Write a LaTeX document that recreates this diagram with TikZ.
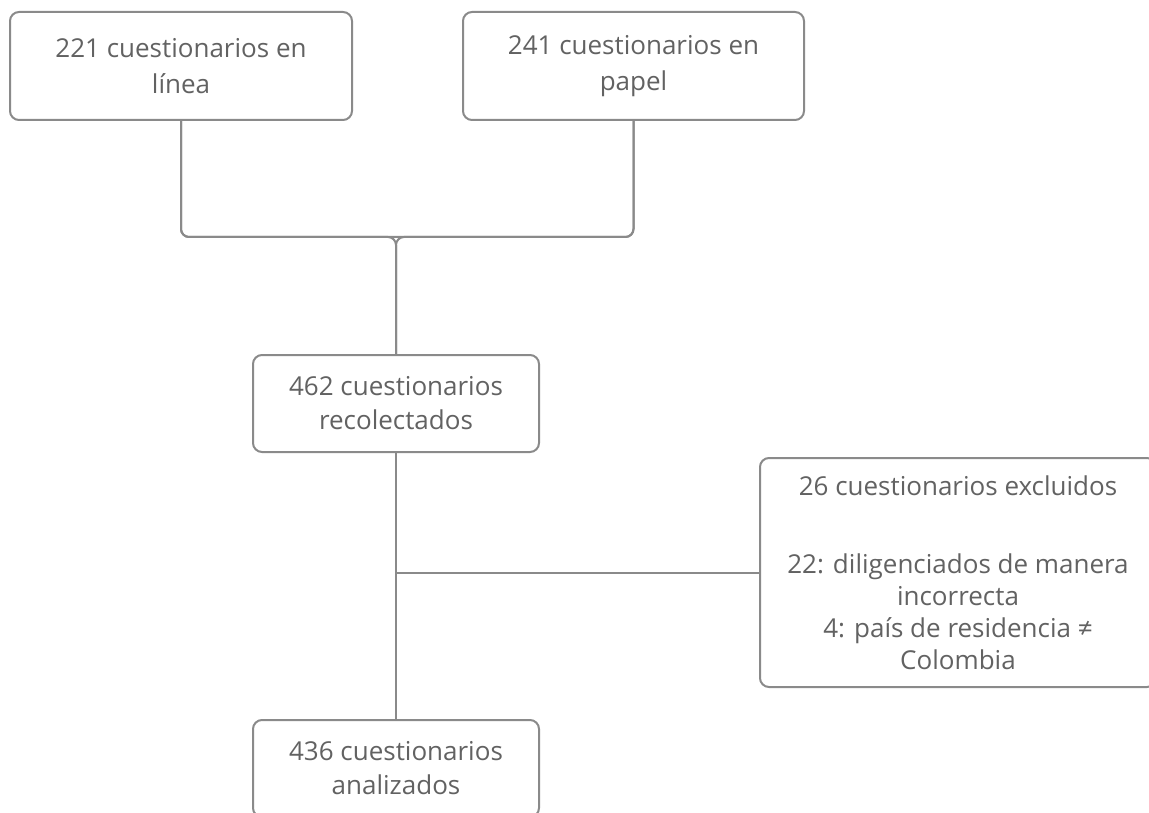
\documentclass[tikz,border=0pt]{standalone}
\usepackage{fontspec}
\setmainfont{Open Sans}
\definecolor{boxline}{HTML}{8A8A8A}
\definecolor{txt}{HTML}{626262}
\tikzset{
  box/.style={draw=boxline, line width=2pt, rounded corners=9pt, align=center,
    text=txt, font=\fontsize{26}{34}\selectfont, inner sep=0pt},
  conn/.style={draw=boxline, line width=2pt, rounded corners=8pt}
}
\begin{document}
\begin{tikzpicture}[x=1pt,y=-1pt]
\useasboundingbox (0,0) rectangle (1149,813);
\clip (0,0) rectangle (1149,813);
\fill[white] (0,0) rectangle (1149,813);
\node[box, minimum width=342pt, minimum height=108pt, font=\fontsize{26}{36}\selectfont] (b1) at (181,66) {221 cuestionarios en\\línea};
\node[box, minimum width=341pt, minimum height=108pt, font=\fontsize{26}{36}\selectfont] (b2) at (633.5,66) {241 cuestionarios en\\papel};
\node[box, minimum width=286pt, minimum height=97pt] (b3) at (396,403.5) {462 cuestionarios\\recolectados};
\node[box, minimum width=286pt, minimum height=97pt] (b4) at (396,768.5) {436 cuestionarios\\analizados};
\node[box, minimum width=396pt, minimum height=229pt, font=\fontsize{26}{32}\selectfont] (b5) at (958,572.5)
  {26 cuestionarios excluidos\\[46pt]22: diligenciados de manera\\incorrecta\\4: país de residencia ≠\\Colombia};
\coordinate (j) at (b3.north |- 0,237);
\coordinate (k) at (b3.south |- b5.west);
\draw[conn] (b1.south) |- (j) -| (b2.south);
\draw[conn] (b1.south) |- (j) -- (b3.north);
\draw[conn] (b2.south) |- (j) -- (b3.north);
\draw[conn] (b3.south) -- (b4.north);
\draw[conn] (k) -- (b5.west);
\end{tikzpicture}
\end{document}
